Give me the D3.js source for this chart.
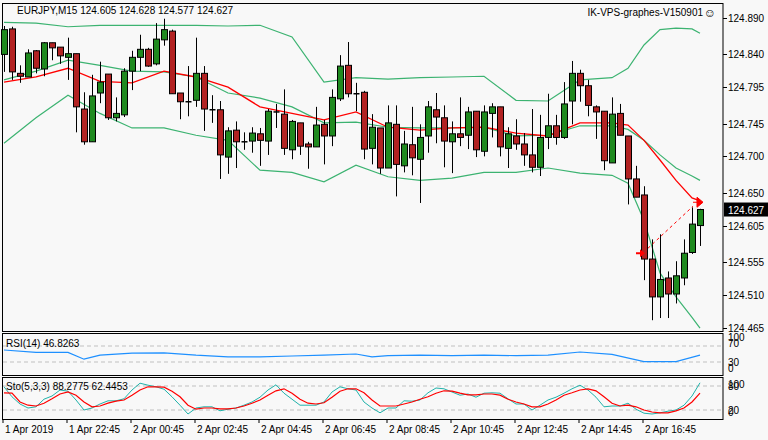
<!DOCTYPE html>
<html><head><meta charset="utf-8">
<script src="https://cdn.jsdelivr.net/npm/d3@7"></script>
<style>
body{margin:0;background:#f8f8f8;}
svg{display:block;font-family:"Liberation Sans",Arial,sans-serif;font-size:10px;}
</style></head>
<body><svg id="chart" width="768" height="440"></svg>
<script>
// candles, EURJPY M15
const open  = [124.840,124.875,124.814,124.809,124.845,124.820,124.856,124.850,124.836,124.841,124.765,124.720,124.787,124.813,124.753,124.757,124.817,124.836,124.847,124.827,124.860,124.872,124.787,124.775,124.777,124.814,124.764,124.764,124.699,124.736,124.720,124.721,124.731,124.721,124.761,124.758,124.709,124.746,124.717,124.713,124.744,124.728,124.779,124.825,124.786,124.788,124.711,124.739,124.684,124.744,124.687,124.716,124.696,124.728,124.764,124.753,124.720,124.731,124.729,124.762,124.707,124.759,124.768,124.711,124.728,124.717,124.702,124.685,124.726,124.742,124.726,124.776,124.814,124.797,124.768,124.762,124.691,124.759,124.728,124.669,124.647,124.559,124.507,124.533,124.511,124.533,124.568,124.605];
const high  = [124.879,124.878,124.825,124.847,124.846,124.857,124.856,124.850,124.863,124.841,124.788,124.812,124.830,124.813,124.781,124.821,124.845,124.867,124.849,124.883,124.889,124.874,124.787,124.824,124.863,124.824,124.784,124.776,124.740,124.748,124.733,124.740,124.739,124.765,124.772,124.792,124.750,124.746,124.720,124.768,124.750,124.792,124.839,124.857,124.801,124.790,124.758,124.739,124.770,124.770,124.735,124.768,124.744,124.776,124.787,124.770,124.748,124.781,124.768,124.762,124.770,124.773,124.768,124.740,124.751,124.732,124.765,124.757,124.786,124.757,124.802,124.831,124.819,124.805,124.770,124.762,124.781,124.772,124.728,124.687,124.659,124.586,124.593,124.542,124.556,124.586,124.630,124.628];
const low   = [124.816,124.805,124.801,124.809,124.814,124.810,124.832,124.827,124.805,124.733,124.716,124.720,124.773,124.750,124.748,124.754,124.791,124.817,124.823,124.825,124.852,124.786,124.751,124.755,124.768,124.735,124.746,124.669,124.676,124.684,124.709,124.705,124.687,124.702,124.739,124.702,124.696,124.702,124.683,124.713,124.689,124.714,124.776,124.781,124.762,124.696,124.689,124.676,124.684,124.645,124.678,124.674,124.636,124.705,124.718,124.685,124.677,124.714,124.710,124.699,124.700,124.726,124.700,124.684,124.709,124.687,124.678,124.673,124.710,124.716,124.724,124.744,124.775,124.755,124.724,124.681,124.691,124.729,124.634,124.644,124.530,124.475,124.478,124.478,124.498,124.523,124.566,124.577];
const close = [124.874,124.816,124.810,124.842,124.821,124.856,124.849,124.838,124.841,124.768,124.720,124.783,124.802,124.753,124.759,124.817,124.836,124.847,124.824,124.861,124.874,124.786,124.775,124.773,124.814,124.765,124.764,124.702,124.735,124.720,124.720,124.732,124.722,124.762,124.759,124.711,124.748,124.714,124.713,124.743,124.728,124.781,124.824,124.786,124.786,124.710,124.740,124.684,124.746,124.689,124.717,124.698,124.726,124.768,124.754,124.721,124.731,124.726,124.761,124.709,124.761,124.768,124.713,124.731,124.717,124.702,124.685,124.726,124.742,124.726,124.772,124.814,124.797,124.770,124.761,124.694,124.758,124.729,124.669,124.644,124.559,124.507,124.531,124.511,124.536,124.567,124.607,124.627];

// bollinger bands and moving average, read at these bars
const bandBars = [0,4,8,12,16,20,24,28,32,36,40,44,48,52,56,60,64,68,72,76,78,80,82,84,86,87];
const bandUpper = [124.884,124.883,124.878,124.880,124.880,124.880,124.880,124.879,124.880,124.864,124.802,124.808,124.806,124.808,124.809,124.810,124.777,124.776,124.805,124.808,124.821,124.853,124.874,124.876,124.875,124.869];
const bandMid   = [124.805,124.817,124.832,124.825,124.817,124.816,124.809,124.787,124.780,124.768,124.746,124.747,124.740,124.739,124.739,124.740,124.728,124.729,124.742,124.742,124.737,124.722,124.702,124.684,124.673,124.667];
const bandLower = [124.718,124.753,124.784,124.759,124.739,124.739,124.729,124.722,124.681,124.678,124.665,124.688,124.672,124.667,124.670,124.678,124.678,124.684,124.677,124.674,124.663,124.612,124.540,124.507,124.479,124.464];
const maRed     = [124.802,124.809,124.821,124.803,124.801,124.817,124.809,124.795,124.768,124.759,124.750,124.761,124.740,124.736,124.739,124.740,124.732,124.728,124.746,124.746,124.743,124.722,124.695,124.667,124.643,124.639];

// RSI(14)
const rsiBars = [0,4,8,10,12,16,20,24,28,32,36,40,44,46,48,52,56,60,64,68,72,76,80,84,87];
const rsi     = [60,54,54,37,47,52,53,47,43,43,45,47,50,43,46,47,46,47,46,47,55,49,31,31,47];

// Stochastic(5,3,3) main / signal, every bar
const stoMain = [78,53,35,25,28,47,55,70,67,45,20,25,35,43,43,48,70,87,82,78,72,53,32,10,25,28,28,18,22,25,32,40,52,70,83,62,47,32,32,32,40,65,78,73,70,40,25,13,25,25,43,42,45,63,75,73,65,57,60,52,62,63,62,48,35,35,20,32,45,52,62,73,82,70,52,28,30,30,37,22,12,10,13,17,20,32,55,88];
const stoSig  = [63,62,40,32,30,37,48,60,65,57,40,28,30,37,42,45,57,70,78,78,77,67,53,32,22,25,25,23,23,25,30,37,45,57,68,73,62,47,37,35,38,52,67,73,73,63,45,30,30,30,35,40,47,53,62,68,67,62,58,58,60,60,57,47,40,35,28,28,35,45,57,63,70,73,68,53,37,30,32,28,20,15,13,13,18,25,40,62];

const priceTicks = [124.890,124.840,124.795,124.745,124.700,124.650,124.605,124.555,124.510,124.465];
const timeLabels = ["1 Apr 2019","1 Apr 22:45","2 Apr 00:45","2 Apr 02:45","2 Apr 04:45","2 Apr 06:45","2 Apr 08:45","2 Apr 10:45","2 Apr 12:45","2 Apr 14:45","2 Apr 16:45"];
const signalBars = [80, 87];
const signalPrices = [124.567, 124.637];

const svg = d3.select("#chart");
const R = 723;
const x = d3.scaleLinear().domain([0, 1]).range([4, 12]);
const y = d3.scaleLinear().domain([124.465, 124.890]).range([327.5, 18]);
const yR = d3.scaleLinear().domain([0, 100]).range([374, 334]);
const yS = d3.scaleLinear().domain([0, 100]).range([418, 378]);

svg.append("rect").attr("width", 768).attr("height", 440).attr("fill", "#f8f8f8");

// panel frames
[[3, 331], [333, 375], [377, 419]].forEach(([t, b]) => {
    svg.append("rect").attr("x", 2.5).attr("y", t + 0.5).attr("width", R - 2.5).attr("height", b - t)
      .attr("fill", "none").attr("stroke", "#000");
});

// bands
const band = (bars, vals, sc) => d3.line().x((d, i) => x(bars[i])).y(d => sc(d))(vals);
[bandUpper, bandMid, bandLower].forEach(v => {
    svg.append("path").attr("d", band(bandBars, v, y)).attr("fill", "none").attr("stroke", "#3cb371").attr("stroke-width", 1.2);
});
svg.append("path").attr("d", band(bandBars, maRed, y)).attr("fill", "none").attr("stroke", "#ff0000").attr("stroke-width", 1.3);

// candles
const g = svg.append("g");
open.forEach((o, i) => {
    const c = close[i], cx = Math.round(x(i)) + 0.5;
    g.append("line").attr("x1", cx).attr("x2", cx).attr("y1", y(high[i])).attr("y2", y(low[i])).attr("stroke", "#000");
    const top = y(Math.max(o, c)), bot = y(Math.min(o, c));
    if (bot - top < 1.5) {
        g.append("line").attr("x1", cx - 3).attr("x2", cx + 3).attr("y1", top).attr("y2", top).attr("stroke", "#000").attr("stroke-width", 1.5);
    } else {
        g.append("rect").attr("x", cx - 3).attr("y", top).attr("width", 6).attr("height", bot - top)
          .attr("fill", c >= o ? "#1f8a1f" : "#b22222").attr("stroke", "#000");
    }
});

// signal
svg.append("line").attr("x1", x(signalBars[0]) + 4).attr("y1", y(signalPrices[0]) - 5)
  .attr("x2", x(signalBars[1]) - 7).attr("y2", y(signalPrices[1]) + 4)
  .attr("stroke", "#ff0000").attr("stroke-dasharray", "3,3");
const sx0 = x(signalBars[0]) - 3, sy0 = y(signalPrices[0]);
svg.append("path").attr("d", `M${sx0-5},${sy0-1}h4v-3l5,4l-5,4v-3h-4z`).attr("fill", "#ff0000");
const sx1 = x(signalBars[1]), sy1 = y(signalPrices[1]);
svg.append("path").attr("d", `M${sx1-7},${sy1}h4M${sx1-3},${sy1-5}l6,5l-6,5z`).attr("fill", "#ff0000").attr("stroke", "#ff0000");

// price axis
priceTicks.forEach(p => {
    svg.append("line").attr("x1", R).attr("x2", R + 4).attr("y1", Math.round(y(p)) + 0.5).attr("y2", Math.round(y(p)) + 0.5).attr("stroke", "#000");
    svg.append("text").attr("x", 728).attr("y", y(p) + 4).text(p.toFixed(3));
});
const last = close[close.length - 1];
svg.append("rect").attr("x", 724).attr("y", y(last) - 7).attr("width", 44).attr("height", 14).attr("fill", "#000");
svg.append("text").attr("x", 728).attr("y", y(last) + 4).attr("fill", "#fff").text(last.toFixed(3));

// RSI
[70, 30].forEach(v => svg.append("line").attr("x1", 3).attr("x2", R).attr("y1", yR(v)).attr("y2", yR(v))
    .attr("stroke", "#c0c0c0").attr("stroke-dasharray", "4,3"));
svg.append("path").attr("d", band(rsiBars, rsi, yR)).attr("fill", "none").attr("stroke", "#1e90ff").attr("stroke-width", 1.2);
[[100, 341], [70, 347], [30, 366], [0, 372]].forEach(([v, ty]) => svg.append("text").attr("x", 728).attr("y", ty).text(v));
svg.append("text").attr("x", 6).attr("y", 347).text("RSI(14) 46.8263");

// stochastic
[80, 20].forEach(v => svg.append("line").attr("x1", 3).attr("x2", R).attr("y1", yS(v)).attr("y2", yS(v))
    .attr("stroke", "#c0c0c0").attr("stroke-dasharray", "4,3"));
const sl = d3.line().x((d, i) => x(i)).y(d => yS(d));
svg.append("path").attr("d", sl(stoMain)).attr("fill", "none").attr("stroke", "#20b2aa");
svg.append("path").attr("d", sl(stoSig)).attr("fill", "none").attr("stroke", "#ff0000").attr("stroke-width", 1.2);
[[100, 388], [80, 390], [20, 414], [0, 416]].forEach(([v, ty]) => svg.append("text").attr("x", 728).attr("y", ty).text(v));
svg.append("text").attr("x", 6).attr("y", 390).text("Sto(5,3,3) 88.2775 62.4453");

// time axis
timeLabels.forEach((t, k) => {
    const tx = x(k * 8) - 1;
    svg.append("line").attr("x1", tx).attr("x2", tx).attr("y1", 419).attr("y2", 423).attr("stroke", "#000");
    svg.append("text").attr("x", tx + 2).attr("y", 433).text(t);
});

svg.append("text").attr("x", 17).attr("y", 14).text("EURJPY,M15  124.605 124.628 124.577 124.627");
svg.append("text").attr("x", 703).attr("y", 16).attr("text-anchor", "end").text("IK-VPS-graphes-V150901");
svg.append("text").attr("x", 710).attr("y", 17).attr("text-anchor", "middle").attr("font-size", 12).text("\u263A");
</script></body></html>
